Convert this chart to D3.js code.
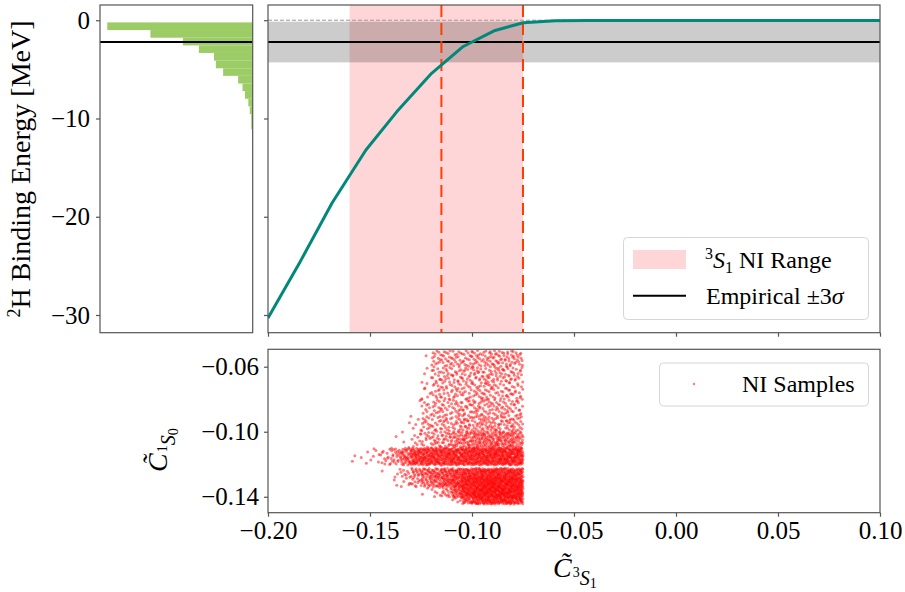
<!DOCTYPE html>
<html><head><meta charset="utf-8">
<script src="https://cdn.jsdelivr.net/npm/d3@7"></script>
<style>
body{margin:0;background:#fff}
svg{display:block}
text{font-family:"Liberation Serif","Times New Roman",serif;fill:#000}
</style>
</head><body>
<svg id="c" width="905" height="592"></svg>
<script>
// ---------------- data ----------------
const couplingGrid = [-0.2, -0.1843, -0.1686, -0.152, -0.1368, -0.1198, -0.1043, -0.0887, -0.0749, -0.0593, -0.0436, -0.0279, -0.0121, 0.0036, 0.0193, 0.035, 0.0507, 0.0664, 0.0821, 0.1];
const bindingEnergy = [-30.3, -24.6, -18.6, -13.2, -9.3, -5.4, -2.67, -1.04, -0.25, -0.06, -0.03, -0.02, -0.02, -0.02, -0.02, -0.02, -0.02, -0.02, -0.02, -0.02];
const niRange = [-0.160, -0.075];
const niDashed = [-0.115, -0.075];
const empiricalEnergy = -2.224;
const empiricalBand = [-4.29, -0.15];

const histEdges = [-15.75, -14.97, -14.20, -13.42, -12.65, -11.87, -11.09, -10.32, -9.54, -8.77, -7.99, -7.21, -6.44, -5.66, -4.89, -4.11, -3.33, -2.56, -1.78, -1.00, -0.22];
const histCounts = [1, 1, 1, 1, 1, 1, 3, 3, 6, 9, 16, 21, 30, 61, 76, 80, 111, 144, 211, 300];

const topYTicks = [0, -10, -20, -30];
const xTicks = [-0.20, -0.15, -0.10, -0.05, 0.00, 0.05, 0.10];
const botYTicks = [-0.06, -0.10, -0.14];

// NI samples: density of points read per cell (rows top->bottom, columns left->right)
const sampleColEdges = [-0.165, -0.16, -0.155, -0.15, -0.145, -0.14, -0.135, -0.13, -0.125, -0.12, -0.115, -0.11, -0.105, -0.10, -0.095, -0.09, -0.085, -0.08, -0.075];
const sampleRowTop =    [-0.050, -0.060, -0.070, -0.080, -0.090, -0.100, -0.1100, -0.1225, -0.128, -0.134, -0.1405];
const sampleRowBottom = [-0.060, -0.070, -0.080, -0.090, -0.100, -0.110, -0.1205, -0.1280, -0.134, -0.1405, -0.1445];
const sampleCounts = [
  [0,0,0,0,0,0,0,0,1,14,16,16,16,18,18,18,18,16],
  [0,0,0,0,0,0,0,0,3,14,14,15,15,16,17,17,16,14],
  [0,0,0,0,0,0,0,0,6,13,13,14,14,15,15,14,14,12],
  [0,0,0,0,0,0,0,1,10,13,14,15,16,17,17,16,15,14],
  [0,0,0,0,0,0,1,5,13,14,15,17,19,21,21,20,19,17],
  [0,0,0,0,0,1,3,8,13,17,22,27,31,36,38,38,36,34],
  [0,2,3,6,12,22,40,62,66,68,68,70,72,74,76,78,78,78],
  [0,0,0,0,1,3,8,16,22,25,28,32,36,40,42,42,42,40],
  [0,0,0,0,0,2,5,11,18,24,30,40,48,52,55,55,55,52],
  [0,0,0,0,0,0,0,0,2,6,14,30,50,58,62,62,62,58],
  [0,0,0,0,0,0,0,0,0,0,0,4,18,28,32,32,32,28]
];

// ---------------- layout ----------------
const svg = d3.select("#c");
const P = {
  hist: {x0: 100, x1: 252.7, y0: 5, y1: 332.7},
  top:  {x0: 268, x1: 880,   y0: 5, y1: 332.7},
  bot:  {x0: 268, x1: 880,   y0: 349.3, y1: 512.7}
};
const x = d3.scaleLinear().domain([-0.2, 0.1]).range([P.top.x0, P.top.x1]);
const yTop = d3.scaleLinear().domain([-31.8, 1.55]).range([P.top.y1, P.top.y0]);
const yBot = d3.scaleLinear().domain([-0.1498, -0.0493]).range([P.bot.y1, P.bot.y0]);
const xHist = d3.scaleLinear().domain([0, d3.max(histCounts) * 1.05]).range([P.hist.x1, P.hist.x0]);

const spine = "#555", TICK_FS = 25;
const defs = svg.append("defs");
for (const k of Object.keys(P)) {
  const p = P[k];
  defs.append("clipPath").attr("id", "clip-" + k).append("rect")
    .attr("x", p.x0).attr("y", p.y0).attr("width", p.x1 - p.x0).attr("height", p.y1 - p.y0);
}
const fmt = d3.format(".2f");

function styleAxis(g) {
  g.select(".domain").remove();
  g.selectAll(".tick line").attr("stroke", spine).attr("stroke-width", 1.2);
  g.selectAll(".tick text").attr("font-size", TICK_FS).attr("fill", "#000")
    .style("font-family", '"Liberation Serif", serif');
}

// ---------------- histogram panel ----------------
const gh = svg.append("g").attr("clip-path", "url(#clip-hist)");
gh.selectAll("rect.bar").data(histCounts).join("rect")
  .attr("x", d => xHist(d))
  .attr("width", d => xHist(0) - xHist(d))
  .attr("y", (d, i) => yTop(histEdges[i + 1]))
  .attr("height", (d, i) => yTop(histEdges[i]) - yTop(histEdges[i + 1]))
  .attr("fill", "#9ccc65");
gh.append("line").attr("x1", P.hist.x0).attr("x2", P.hist.x1)
  .attr("y1", yTop(empiricalEnergy)).attr("y2", yTop(empiricalEnergy))
  .attr("stroke", "#000").attr("stroke-width", 2);

svg.append("g").attr("transform", `translate(${P.hist.x0},0)`)
  .call(d3.axisLeft(yTop).tickValues(topYTicks).tickFormat(d3.format("d")).tickSize(4).tickPadding(6))
  .call(styleAxis);

// ---------------- top-right panel ----------------
const gt = svg.append("g").attr("clip-path", "url(#clip-top)");
gt.append("rect").attr("x", x(niRange[0])).attr("width", x(niRange[1]) - x(niRange[0]))
  .attr("y", P.top.y0).attr("height", P.top.y1 - P.top.y0).attr("fill", "#ffd6d8");
gt.append("rect").attr("x", P.top.x0).attr("width", P.top.x1 - P.top.x0)
  .attr("y", yTop(empiricalBand[1])).attr("height", yTop(empiricalBand[0]) - yTop(empiricalBand[1]))
  .attr("fill", "#000").attr("fill-opacity", 0.2);
gt.append("line").attr("x1", P.top.x0).attr("x2", P.top.x1)
  .attr("y1", yTop(empiricalEnergy)).attr("y2", yTop(empiricalEnergy))
  .attr("stroke", "#000").attr("stroke-width", 2);
gt.append("line").attr("x1", P.top.x0).attr("x2", P.top.x1)
  .attr("y1", yTop(0)).attr("y2", yTop(0))
  .attr("stroke", "#999").attr("stroke-width", 1).attr("stroke-dasharray", "4,2");
gt.selectAll("line.ni").data(niDashed).join("line")
  .attr("x1", d => x(d)).attr("x2", d => x(d)).attr("y1", P.top.y0).attr("y2", P.top.y1)
  .attr("stroke", "#ff3d00").attr("stroke-width", 2).attr("stroke-dasharray", "12,6");
gt.append("path").datum(couplingGrid.map((c, i) => [c, bindingEnergy[i]]))
  .attr("d", d3.line().x(d => x(d[0])).y(d => yTop(d[1])))
  .attr("fill", "none").attr("stroke", "#00897b").attr("stroke-width", 3).attr("stroke-linejoin", "round");

svg.append("g").attr("transform", `translate(${P.top.x0},0)`)
  .call(d3.axisLeft(yTop).tickValues(topYTicks).tickFormat("").tickSize(4)).call(styleAxis);
svg.append("g").attr("transform", `translate(0,${P.top.y1})`)
  .call(d3.axisBottom(x).tickValues(xTicks).tickFormat("").tickSize(4)).call(styleAxis);

// ---------------- bottom panel ----------------
function halton(i, b) { let f = 1, r = 0; while (i > 0) { f /= b; r += f * (i % b); i = Math.floor(i / b); } return r; }
const samples = [];
let n = 0;
sampleCounts.forEach((row, r) => row.forEach((cnt, c) => {
  for (let k = 0; k < cnt; k++) {
    n++;
    const sx = sampleColEdges[c] + halton(n, 2) * (sampleColEdges[c + 1] - sampleColEdges[c]);
    const sy = sampleRowTop[r] + halton(n, 3) * (sampleRowBottom[r] - sampleRowTop[r]);
    samples.push([sx, sy]);
  }
}));
const gb = svg.append("g").attr("clip-path", "url(#clip-bot)");
gb.selectAll("circle").data(samples).join("circle")
  .attr("cx", d => x(d[0])).attr("cy", d => yBot(d[1])).attr("r", 1.5)
  .attr("fill", "#ff0000").attr("fill-opacity", 0.5);

svg.append("g").attr("transform", `translate(0,${P.bot.y1})`)
  .call(d3.axisBottom(x).tickValues(xTicks).tickFormat(fmt).tickSize(4).tickPadding(5)).call(styleAxis);
svg.append("g").attr("transform", `translate(${P.bot.x0},0)`)
  .call(d3.axisLeft(yBot).tickValues(botYTicks).tickFormat(fmt).tickSize(4).tickPadding(5)).call(styleAxis);

// spines
for (const k of Object.keys(P)) {
  const p = P[k];
  svg.append("rect").attr("x", p.x0).attr("y", p.y0).attr("width", p.x1 - p.x0).attr("height", p.y1 - p.y0)
    .attr("fill", "none").attr("stroke", spine).attr("stroke-width", 1.2);
}

// ---------------- legends ----------------
const L1 = svg.append("g");
L1.append("rect").attr("x", 623.5).attr("y", 237.5).attr("width", 245).attr("height", 82).attr("rx", 4)
  .attr("fill", "#fff").attr("fill-opacity", 0.8).attr("stroke", "#d6d6d6");
L1.append("rect").attr("x", 633).attr("y", 250).attr("width", 53).attr("height", 19).attr("fill", "#ffd6d8");
const t1 = L1.append("text").attr("x", 705).attr("y", 268).attr("font-size", 24);
t1.append("tspan").attr("font-size", 16).attr("dy", -9).text("3");
t1.append("tspan").attr("font-style", "italic").attr("dy", 9).text("S");
t1.append("tspan").attr("font-size", 16).attr("dy", 5).text("1");
t1.append("tspan").attr("dy", -5).text(" NI Range");
L1.append("line").attr("x1", 633).attr("x2", 686).attr("y1", 295.7).attr("y2", 295.7).attr("stroke", "#000").attr("stroke-width", 2);
const t2 = L1.append("text").attr("x", 706).attr("y", 304).attr("font-size", 24);
t2.append("tspan").text("Empirical ±3");
t2.append("tspan").attr("font-style", "italic").text("σ");

const L2 = svg.append("g");
L2.append("rect").attr("x", 659.5).attr("y", 363).attr("width", 209).attr("height", 43).attr("rx", 4)
  .attr("fill", "#fff").attr("fill-opacity", 0.8).attr("stroke", "#d6d6d6");
L2.append("circle").attr("cx", 694).attr("cy", 384).attr("r", 1.3).attr("fill", "#ff0000").attr("fill-opacity", 0.5);
L2.append("text").attr("x", 742).attr("y", 392).attr("font-size", 24).text("NI Samples");

// ---------------- axis labels ----------------
const yl = svg.append("text").attr("transform", "translate(30,169) rotate(-90)")
  .attr("text-anchor", "middle").attr("font-size", 28);
yl.append("tspan").attr("font-size", 18).attr("dy", -10).text("2");
yl.append("tspan").attr("dy", 10).text("H Binding Energy [MeV]");

function cTilde(transform, sup, sub) {
  const g = svg.append("g").attr("transform", transform);
  const t = g.append("text").attr("x", 0).attr("y", 0).attr("font-size", 28);
  t.append("tspan").attr("font-style", "italic").text("C\u0303");
  t.append("tspan").attr("font-size", 14).attr("dx", 1).text(sup);
  t.append("tspan").attr("font-size", 20).attr("font-style", "italic").attr("dy", 8).text("S");
  t.append("tspan").attr("font-size", 14).attr("dy", 3).text(sub);
}
cTilde("translate(553,577)", "3", "1");
cTilde("translate(167,472) rotate(-90)", "1", "0");
</script>
</body></html>
